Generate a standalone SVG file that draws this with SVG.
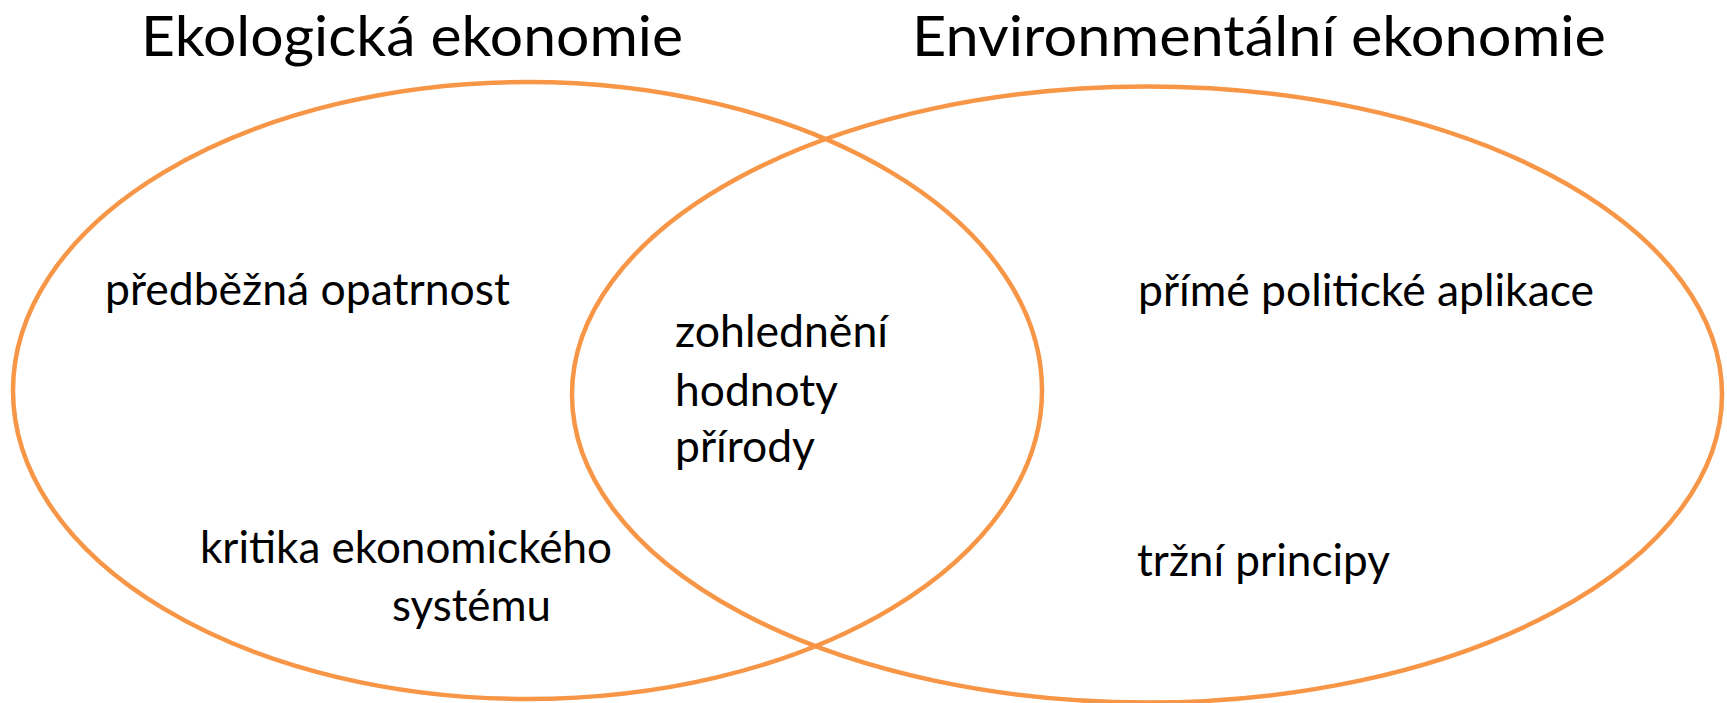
<svg xmlns="http://www.w3.org/2000/svg" width="1727" height="703" viewBox="0 0 1727 703">
<style>
.ring{fill:none;stroke:#F79646;stroke-width:4.5}
.title{font-family:Lato,"Open Sans","Liberation Sans",sans-serif;font-size:56px;fill:#000}
.body{font-family:Lato,"Open Sans","Liberation Sans",sans-serif;font-size:45px;fill:#000}
</style>
<rect width="1727" height="703" fill="#fff"/>
<g id="left-set">
<ellipse class="ring" cx="527.5" cy="390.5" rx="514.5" ry="308.5"/>
<text class="title" x="141" y="56" textLength="542" lengthAdjust="spacingAndGlyphs">Ekologická ekonomie</text>
<text class="body" x="105" y="305" textLength="405" lengthAdjust="spacingAndGlyphs">předběžná opatrnost</text>
<text class="body" x="200" y="563" textLength="412" lengthAdjust="spacingAndGlyphs">kritika ekonomického</text>
<text class="body" x="392" y="621" textLength="159" lengthAdjust="spacingAndGlyphs">systému</text>
</g>
<g id="right-set">
<ellipse class="ring" cx="1147" cy="394.5" rx="575" ry="308"/>
<text class="title" x="912" y="56" textLength="694" lengthAdjust="spacingAndGlyphs">Environmentální ekonomie</text>
<text class="body" x="1138" y="306" textLength="456" lengthAdjust="spacingAndGlyphs">přímé politické aplikace</text>
<text class="body" x="1137" y="576" textLength="253" lengthAdjust="spacingAndGlyphs">tržní principy</text>
</g>
<g id="overlap">
<text class="body" x="675" y="347" textLength="213" lengthAdjust="spacingAndGlyphs">zohlednění</text>
<text class="body" x="675" y="406" textLength="163" lengthAdjust="spacingAndGlyphs">hodnoty</text>
<text class="body" x="675" y="462" textLength="140" lengthAdjust="spacingAndGlyphs">přírody</text>
</g>
<g id="connectors"></g>
</svg>
